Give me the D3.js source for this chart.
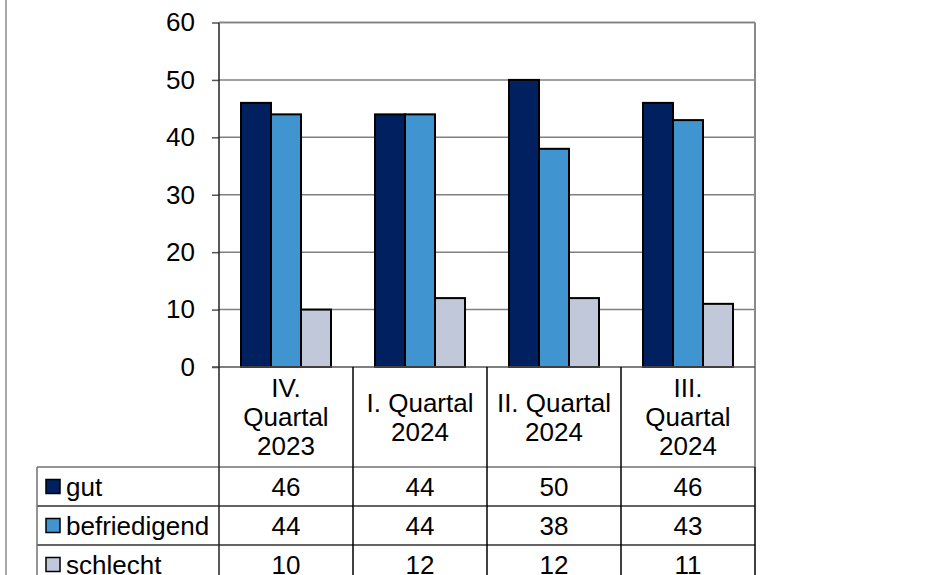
<!DOCTYPE html>
<html>
<head>
<meta charset="utf-8">
<script src="https://cdn.jsdelivr.net/npm/d3@7/dist/d3.min.js"></script>
<style>
html,body{margin:0;padding:0;background:#fff;}
svg{display:block;font-family:"Liberation Sans",Arial,sans-serif;}
</style>
</head>
<body>
<svg id="chart" width="938" height="575"></svg>
<script>
const categories = ["IV. Quartal 2023", "I. Quartal 2024", "II. Quartal 2024", "III. Quartal 2024"];
const categoryLines = [["IV.", "Quartal", "2023"], ["I. Quartal", "2024"], ["II. Quartal", "2024"], ["III.", "Quartal", "2024"]];
const seriesNames = ["gut", "befriedigend", "schlecht"];
const gut = [46, 44, 50, 46];
const befriedigend = [44, 44, 38, 43];
const schlecht = [10, 12, 12, 11];
const yTicks = [0, 10, 20, 30, 40, 50, 60];
const colors = ["#002060", "#4095d1", "#c0c8d9"];

(function () {
const seriesValues = [gut, befriedigend, schlecht];
const svg = d3.select("#chart");
const fs = 26;

const pLeft = 219, pRight = 755, pTop = 22.5, pBottom = 367;
const x = d3.scaleBand().domain(categories).range([pLeft, pRight]).padding(0);
const xs = d3.scaleBand().domain(seriesNames).range([22, 112]).padding(0);
const y = d3.scaleLinear().domain([0, 60]).range([pBottom, pTop]);

// outer left line
svg.append("line").attr("x1", 6).attr("x2", 6).attr("y1", 0).attr("y2", 575)
  .attr("stroke", "#8a8a8a").attr("stroke-width", 1.5);

// axis ticks and labels
const yAxis = d3.axisLeft(y).tickValues(yTicks).tickSize(7).tickPadding(17).tickFormat(d3.format("d"));
const gAx = svg.append("g").attr("transform", `translate(${pLeft},0)`).call(yAxis);
gAx.select(".domain").remove();
gAx.selectAll(".tick line").attr("stroke", "#555").attr("stroke-width", 1.5);
gAx.selectAll(".tick text").attr("font-size", fs).attr("fill", "#000")
  .attr("font-family", "'Liberation Sans', Arial, sans-serif");

// gridlines
svg.append("g").selectAll("line").data(yTicks.filter(d => d > 0)).join("line")
  .attr("x1", pLeft).attr("x2", pRight).attr("y1", d => y(d)).attr("y2", d => y(d))
  .attr("stroke", "#808080").attr("stroke-width", 1.5);

// plot right border
svg.append("line").attr("x1", pRight).attr("x2", pRight).attr("y1", pTop).attr("y2", 467)
  .attr("stroke", "#8a8a8a").attr("stroke-width", 2);

// bars
const gBars = svg.append("g");
seriesNames.forEach((s, si) => {
  gBars.selectAll(null).data(categories).join("rect")
    .attr("x", c => x(c) + xs(s))
    .attr("y", (c, i) => y(seriesValues[si][i]))
    .attr("width", xs.bandwidth())
    .attr("height", (c, i) => y(0) - y(seriesValues[si][i]))
    .attr("fill", colors[si])
    .attr("stroke", "#000").attr("stroke-width", 2);
});

// baseline
svg.append("line").attr("x1", pLeft - 7).attr("x2", pRight).attr("y1", pBottom).attr("y2", pBottom)
  .attr("stroke", "#555").attr("stroke-width", 1.5);

// table
const headerBottom = 467, rowH = 39, tableLeft = 37;
const rowTop = i => headerBottom + i * rowH;

svg.append("g").selectAll("line").data([0, 1, 2, 3]).join("line")
  .attr("x1", tableLeft).attr("x2", pRight)
  .attr("y1", d => rowTop(d)).attr("y2", d => rowTop(d))
  .attr("stroke", (d, i) => i === 0 ? "#707070" : "#303030").attr("stroke-width", 1.5);

svg.append("line").attr("x1", tableLeft).attr("x2", tableLeft).attr("y1", headerBottom).attr("y2", 600)
  .attr("stroke", "#707070").attr("stroke-width", 1.5);

const bounds = categories.map(c => x(c)).concat([pRight]);
svg.append("g").selectAll("line").data(bounds).join("line")
  .attr("x1", d => d).attr("x2", d => d)
  .attr("y1", (d, i) => i === 0 ? pTop : (i === bounds.length - 1 ? headerBottom : pBottom))
  .attr("y2", 600)
  .attr("stroke", (d, i) => i === 0 ? "#222" : "#000").attr("stroke-width", 1.5);

// plot top border
svg.append("line").attr("x1", pLeft).attr("x2", pRight).attr("y1", pTop).attr("y2", pTop)
  .attr("stroke", "#808080").attr("stroke-width", 1.5);

// category labels
const lh = 29;
categories.forEach((c, i) => {
  const lines = categoryLines[i];
  const cy = (pBottom + headerBottom) / 2;
  const y0 = cy - (lines.length - 1) * lh / 2;
  const t = svg.append("text").attr("text-anchor", "middle").attr("font-size", fs).attr("fill", "#000");
  lines.forEach((l, j) => {
    t.append("tspan").attr("x", x(c) + x.bandwidth() / 2).attr("y", y0 + j * lh).attr("dy", "0.35em").text(l);
  });
});

// rows
seriesNames.forEach((s, si) => {
  const cy = rowTop(si) + rowH / 2;
  svg.append("rect").attr("x", 46).attr("y", cy - 7).attr("width", 14).attr("height", 14)
    .attr("fill", colors[si]).attr("stroke", "#000").attr("stroke-width", 1.5);
  svg.append("text").attr("x", 66).attr("y", cy).attr("dy", "0.35em")
    .attr("font-size", fs).attr("fill", "#000").text(s);
  categories.forEach((c, ci) => {
    svg.append("text").attr("x", x(c) + x.bandwidth() / 2).attr("y", cy).attr("dy", "0.35em")
      .attr("text-anchor", "middle").attr("font-size", fs).attr("fill", "#000")
      .text(seriesValues[si][ci]);
  });
});
})();
</script>
</body>
</html>
